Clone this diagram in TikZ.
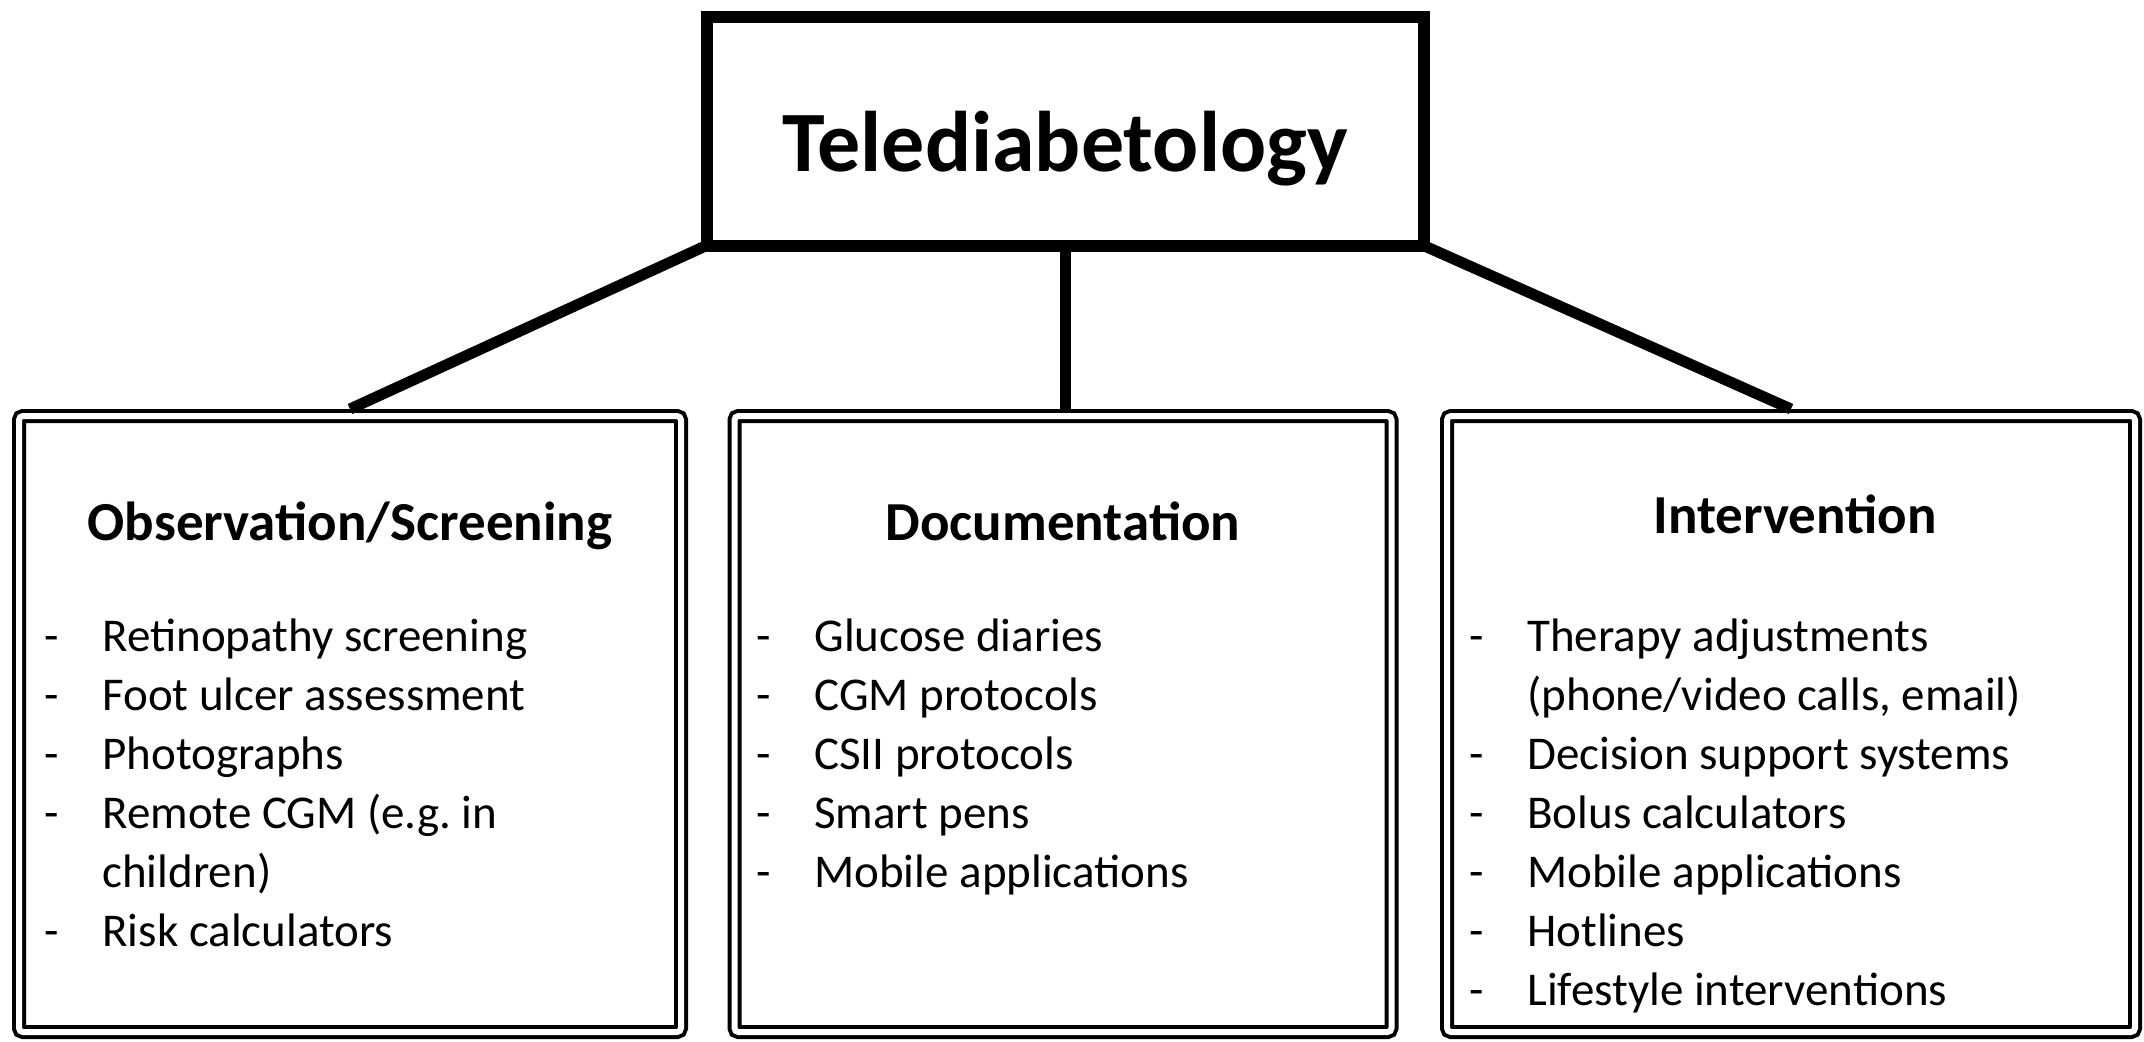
\documentclass[tikz,border=0pt]{standalone}
\usepackage{fontspec}
\setmainfont{Carlito}
\usetikzlibrary{positioning}

\tikzset{
  topbox/.style={draw, line width=6pt, minimum width=358.5pt, minimum height=114.5pt,
    inner sep=0pt, outer sep=0pt},
  groupbox/.style={draw, line width=2pt, double, double distance=3pt, rounded corners=2pt,
    inner sep=0pt, outer sep=3.5pt, minimum height=308pt},
  branch/.style={line width=5.5pt},
  titletext/.style={font=\fontsize{43}{50}\selectfont\bfseries, anchor=base, inner sep=0pt},
  heading/.style={font=\fontsize{27.5}{33}\selectfont\bfseries, anchor=base, inner sep=0pt},
  itemlist/.style={font=\fontsize{23.5}{29.5}\selectfont, align=left, anchor=north west, inner sep=0pt}
}
\newcommand{\dsh}{\strut\makebox[29pt][l]{-}}
\newcommand{\nodsh}{\strut\hspace*{29pt}}

\begin{document}
\begin{tikzpicture}[x=0.5pt,y=-0.5pt]
\useasboundingbox (0,0) rectangle (2144,1041);
% top of the tree
\node[topbox] (tele) at (1065,131) {};
\node[titletext] (telelabel) at (1065,171) {Telediabetology};
%% the three branches
\node[groupbox, minimum width=331pt] (obs) at (350,724) {};
\node[groupbox, minimum width=328.5pt] (doc) at (1063,724) {};
\node[groupbox, minimum width=344pt] (intv) at (1791,724) {};
\node[heading] (obshead) at (350,540) {Observation/Screening};
\node[heading] (dochead) at (1063,540) {Documentation};
\node[heading] (intvhead) at (1795,533) {Intervention};
\node[itemlist] (obslist) at (44,610) {\dsh Retinopathy screening\\
  \dsh Foot ulcer assessment\\ \dsh Photographs\\ \dsh Remote CGM (e.g.\ in\\
  \nodsh children)\\ \dsh Risk calculators};
\node[itemlist] (doclist) at (756,610) {\dsh Glucose diaries\\ \dsh CGM protocols\\
  \dsh CSII protocols\\ \dsh Smart pens\\ \dsh Mobile applications};
\node[itemlist] (intvlist) at (1469,610) {\dsh Therapy adjustments\\
  \nodsh (phone/video calls, email)\\ \dsh Decision support systems\\
  \dsh Bolus calculators\\ \dsh Mobile applications\\ \dsh Hotlines\\
  \dsh Lifestyle interventions};
\draw[branch] (tele.south west) -- (obs.north);
\draw[branch] (tele.south) -- (tele.south |- doc.north);
\draw[branch] (tele.south east) -- (intv.north);
\end{tikzpicture}
\end{document}
